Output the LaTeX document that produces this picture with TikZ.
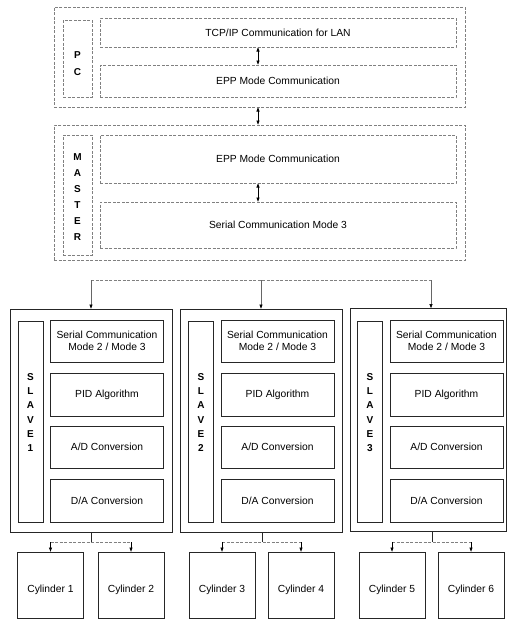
\documentclass[tikz,border=0pt]{standalone}
\usepackage{fontspec}
\setmainfont{Liberation Sans}
\usetikzlibrary{arrows.meta}
\begin{document}
\begin{tikzpicture}[x=1pt,y=-1pt,
  txt/.style={font=\fontsize{10.3}{12}\selectfont, align=center},
  faintbox/.style={draw=black!50, line width=0.6pt, dash pattern=on 3pt off 1.5pt, inner sep=0pt, outer sep=0pt, txt},
  solidbox/.style={draw=black!85, line width=0.8pt, inner sep=0pt, outer sep=0pt, txt},
  arrowone/.style={-{Latex[length=4.5pt,width=3.5pt,color=black]}, line width=0.6pt},
  arrowtwo/.style={{Latex[length=4.5pt,width=3.5pt]}-{Latex[length=4.5pt,width=3.5pt]}, line width=0.6pt},
  faintline/.style={draw=black!50, line width=0.6pt, dash pattern=on 3pt off 1.5pt},
  solidline/.style={draw=black!85, line width=0.8pt},
  vlabel/.style={font=\bfseries\fontsize{10}{14.2}\selectfont, align=center, inner sep=0pt},
]
\useasboundingbox (0,0) rectangle (508,619);

% ---------- PC ----------
\node[faintbox, minimum width=411pt, minimum height=100pt] (pc) at (259.5,57) {};
\node[faintbox, minimum width=29pt, minimum height=77pt] (pclbl) at (77.5,58.5) {};
\node[vlabel, font=\bfseries\fontsize{10}{17}\selectfont] (pct) at (77.5,63.5) {P\\C};
\node[faintbox, minimum width=356pt, minimum height=29pt] (tcp) at (278,32.5) {TCP/IP Communication for LAN};
\node[faintbox, minimum width=356pt, minimum height=32pt] (pcepp) at (278,81) {EPP Mode Communication};

% ---------- MASTER ----------
\node[faintbox, minimum width=411pt, minimum height=135pt] (master) at (259.5,192.5) {};
\node[faintbox, minimum width=29pt, minimum height=120pt] (mlbl) at (77.5,195) {};
\node[vlabel, font=\bfseries\fontsize{10}{16}\selectfont] (mt) at (77.5,197.5) {M\\A\\S\\T\\E\\R};
\node[faintbox, minimum width=356pt, minimum height=48pt] (mepp) at (278,159) {EPP Mode Communication};
\node[faintbox, minimum width=356pt, minimum height=46pt] (mser) at (278,225) {Serial Communication Mode 3};

\coordinate (ax) at (258,0);
\draw[arrowtwo] (tcp.south -| ax) -- (pcepp.north -| ax);
\draw[arrowtwo] (pc.south -| ax) -- (master.north -| ax);
\draw[arrowtwo] (mepp.south -| ax) -- (mser.north -| ax);

% ---------- SLAVES ----------
\node[solidbox, minimum width=162pt, minimum height=223pt] (s1) at (91,420.5) {};
\node[solidbox, minimum width=162pt, minimum height=223pt] (s2) at (261,420.5) {};
\node[solidbox, minimum width=156pt, minimum height=223pt] (s3) at (428,420) {};

\foreach \k/\lx/\bx in {1/30.5/107, 2/201/277.5, 3/370/446.5}{
  \node[solidbox, minimum width=25pt, minimum height=201pt] (l\k) at (\lx,421.5) {};
  \node[vlabel] (lt\k) at (\lx,412.5) {S\\L\\A\\V\\E\\ \k};
  \node[solidbox, minimum width=113pt, minimum height=42pt] (ser\k) at (\bx,341) {Serial Communication\\ Mode 2 / Mode 3};
  \node[solidbox, minimum width=113pt, minimum height=43pt] (pid\k) at (\bx,394.5) {PID Algorithm};
  \node[solidbox, minimum width=113pt, minimum height=42pt] (ad\k) at (\bx,447) {A/D Conversion};
  \node[solidbox, minimum width=113pt, minimum height=43pt] (da\k) at (\bx,500.5) {D/A Conversion};
}

% master to slaves
\coordinate (m1) at (91,280);
\coordinate (m2) at (261,280);
\coordinate (m3) at (431,280);
\draw[faintline] (m1) -- (m3);
\draw[arrowone, draw=black!60] (m1) -- (m1 |- s1.north);
\draw[arrowone, draw=black!60] (m2) -- (m2 |- s2.north);
\draw[arrowone, draw=black!60] (m3) -- (m3 |- s3.north);

% ---------- CYLINDERS ----------
\foreach \n/\cxx in {1/50.5, 2/131, 3/222, 4/301, 5/392, 6/471}{
  \node[solidbox, minimum width=66pt, minimum height=66pt] (c\n) at (\cxx,585) {};
  \node[txt, inner sep=0pt] (ct\n) at (\cxx,590) {Cylinder \n};
}

\coordinate (j1) at (91,542);
\coordinate (j2) at (262,542);
\coordinate (j3) at (432,542);
\foreach \sn/\ca/\cb in {1/1/2, 2/3/4, 3/5/6}{
  \draw[solidline] (s\sn.south -| j\sn) -- (j\sn);
  \draw[faintline] (c\ca.north |- j\sn) -- (c\cb.north |- j\sn);
  \draw[arrowone] (c\ca.north |- j\sn) -- (c\ca.north);
  \draw[arrowone] (c\cb.north |- j\sn) -- (c\cb.north);
}
\end{tikzpicture}
\end{document}
